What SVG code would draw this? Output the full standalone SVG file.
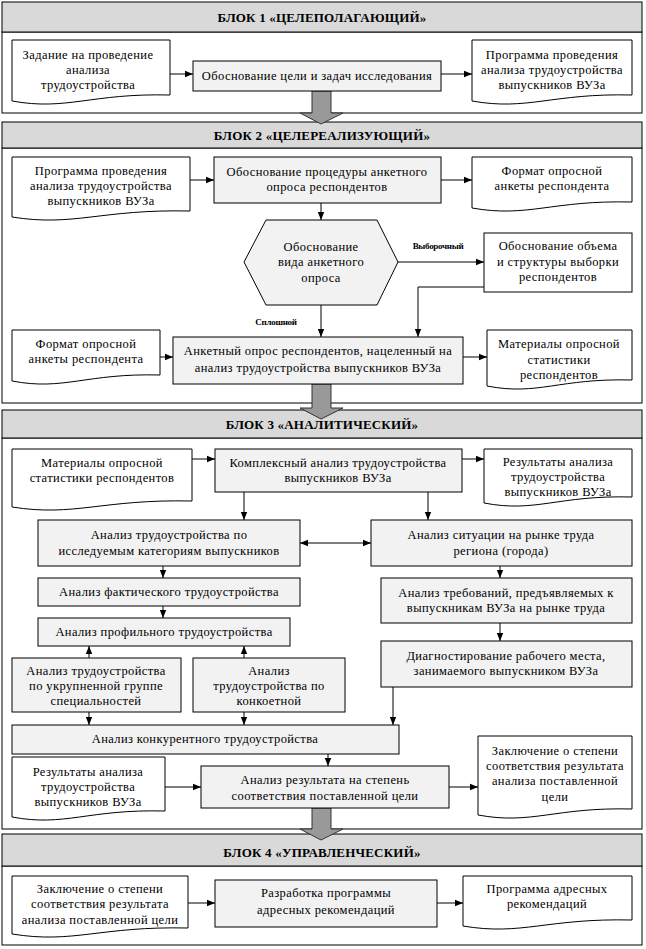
<svg xmlns="http://www.w3.org/2000/svg" width="646" height="949" viewBox="0 0 646 949">
<style>
.hdr{fill:#d9d9d9;stroke:#000;stroke-width:1}
.body{fill:#fff;stroke:#000;stroke-width:1}
.proc{fill:#f2f2f2;stroke:#000;stroke-width:1}
.box{fill:#fff;stroke:#000;stroke-width:1}
.doc{fill:#fff;stroke:#000;stroke-width:1}
.big{fill:#999;stroke:#333;stroke-width:1}
text{font-family:"Liberation Serif","Times New Roman",serif;font-size:12.5px;fill:#000;text-anchor:middle;letter-spacing:0.4px}
.ht{font-weight:bold;font-size:13px;letter-spacing:0.2px}
.lb{font-weight:bold;font-size:9px;letter-spacing:-0.3px}
.cn line,.cn polyline{stroke:#000;stroke-width:1;fill:none}
</style>
<defs>
<marker id="ah" viewBox="0 0 8 8" refX="8" refY="4" markerWidth="8" markerHeight="8" markerUnits="userSpaceOnUse" orient="auto-start-reverse">
<path d="M0,0.8 L8,4 L0,7.2 Z" fill="#000"/>
</marker>
</defs>

<!-- BLOCK 1 -->
<g id="block1">
<rect class="body" x="2" y="32" width="640" height="81"/>
<rect class="hdr" x="2" y="2" width="640" height="30"/>
<text class="ht" x="322" y="22">БЛОК 1 «ЦЕЛЕПОЛАГАЮЩИЙ»</text>
</g>
<!-- BLOCK 2 -->
<g id="block2">
<rect class="body" x="2" y="148" width="640" height="255"/>
<rect class="hdr" x="2" y="122" width="640" height="26"/>
<text class="ht" x="322" y="140">БЛОК 2 «ЦЕЛЕРЕАЛИЗУЮЩИЙ»</text>
</g>
<!-- BLOCK 3 -->
<g id="block3">
<rect class="body" x="2" y="438" width="640" height="391"/>
<rect class="hdr" x="2" y="410" width="640" height="28"/>
<text class="ht" x="322" y="429">БЛОК 3 «АНАЛИТИЧЕСКИЙ»</text>
</g>
<!-- BLOCK 4 -->
<g id="block4">
<rect class="body" x="2" y="866" width="640" height="79"/>
<rect class="hdr" x="2" y="834" width="640" height="32"/>
<text class="ht" x="322" y="857">БЛОК 4 «УПРАВЛЕНЧЕСКИЙ»</text>
</g>

<!-- big transition arrows -->
<g id="transitions">
<polygon class="big" points="312,91 331,91 331,113 343,113 321,124 300,113 312,113"/>
<polygon class="big" points="312,384 331,384 331,408 343,408 321,419 300,408 312,408"/>
<polygon class="big" points="312,808 331,808 331,829 343,829 321,840 300,829 312,829"/>
</g>

<!-- Block 1 nodes -->
<g id="a1"><path class="doc" d="M12,40 H170 V95 C91,93 67,111 12,101 Z"/>
<text x="88" y="59">Задание на проведение</text><text x="88" y="74">анализа</text><text x="88" y="89">трудоустройства</text></g>
<g id="a2"><rect class="proc" x="193" y="61" width="248" height="30"/>
<text x="317" y="80">Обоснование цели и задач исследования</text></g>
<g id="a3"><path class="doc" d="M472,40 H632 V95 C552,93 528,111 472,101 Z"/>
<text x="552" y="59">Программа проведения</text><text x="552" y="74">анализа трудоустройства</text><text x="552" y="89">выпускников ВУЗа</text></g>

<!-- Block 2 nodes -->
<g id="b1"><path class="doc" d="M12,157 H190 V211 C101,209 74,227 12,217 Z"/>
<text x="101" y="175">Программа проведения</text><text x="101" y="190">анализа трудоустройства</text><text x="101" y="205">выпускников ВУЗа</text></g>
<g id="b2"><rect class="proc" x="214" y="157" width="227" height="46"/>
<text x="327" y="176">Обоснование процедуры анкетного</text><text x="327" y="191">опроса респондентов</text></g>
<g id="b3"><path class="doc" d="M472,157 H632 V202 C552,200 528,218 472,208 Z"/>
<text x="552" y="175">Формат опросной</text><text x="552" y="190">анкеты респондента</text></g>
<g id="b4"><polygon class="proc" points="244,262 266,220 377,220 398,262 377,305 266,305"/>
<text x="321" y="251">Обоснование</text><text x="321" y="266">вида анкетного</text><text x="321" y="282">опроса</text></g>
<g id="b5"><rect class="box" x="484" y="233" width="148" height="59"/>
<text x="558" y="250">Обоснование объема</text><text x="558" y="266">и структуры выборки</text><text x="558" y="281">респондентов</text></g>
<g id="b6"><rect class="proc" x="173" y="337" width="290" height="47"/>
<text x="318" y="355">Анкетный опрос респондентов, нацеленный на</text><text x="318" y="372">анализ трудоустройства выпускников ВУЗа</text></g>
<g id="b7"><path class="doc" d="M12,330 H160 V375 C86,373 64,391 12,381 Z"/>
<text x="86" y="348">Формат опросной</text><text x="86" y="363">анкеты респондента</text></g>
<g id="b8"><path class="doc" d="M487,330 H632 V380 C559,378 538,396 487,386 Z"/>
<text x="559" y="348">Материалы опросной</text><text x="559" y="364">статистики</text><text x="559" y="379">респондентов</text></g>

<!-- Block 3 nodes -->
<g id="c1"><path class="doc" d="M12,449 H192 V501 C102,499 75,517 12,507 Z"/>
<text x="102" y="467">Материалы опросной</text><text x="102" y="482">статистики респондентов</text></g>
<g id="c2"><rect class="proc" x="215" y="449" width="247" height="43"/>
<text x="338" y="467">Комплексный анализ трудоустройства</text><text x="338" y="482">выпускников ВУЗа</text></g>
<g id="c3"><path class="doc" d="M484,449 H632 V497 C558,495 536,513 484,503 Z"/>
<text x="558" y="466">Результаты анализа</text><text x="558" y="481">трудоустройства</text><text x="558" y="496">выпускников ВУЗа</text></g>
<g id="c4"><rect class="proc" x="38" y="520" width="262" height="46"/>
<text x="169" y="539">Анализ трудоустройства по</text><text x="169" y="555">исследуемым категориям выпускников</text></g>
<g id="c5"><rect class="proc" x="371" y="520" width="261" height="46"/>
<text x="501" y="539">Анализ ситуации на рынке труда</text><text x="501" y="555">региона (города)</text></g>
<g id="c6"><rect class="proc" x="38" y="578" width="262" height="28"/>
<text x="169" y="596">Анализ фактического трудоустройства</text></g>
<g id="c7"><rect class="proc" x="38" y="618" width="252" height="28"/>
<text x="164" y="636">Анализ профильного трудоустройства</text></g>
<g id="c8"><rect class="proc" x="381" y="578" width="251" height="45"/>
<text x="506" y="597">Анализ требований, предъявляемых к</text><text x="506" y="612">выпускникам ВУЗа на рынке труда</text></g>
<g id="c9"><rect class="proc" x="381" y="641" width="251" height="46"/>
<text x="506" y="660">Диагностирование рабочего места,</text><text x="506" y="675">занимаемого выпускником ВУЗа</text></g>
<g id="c10"><rect class="proc" x="12" y="658" width="169" height="54"/>
<text x="96" y="675">Анализ трудоустройства</text><text x="96" y="690">по укрупненной группе</text><text x="96" y="705">специальностей</text></g>
<g id="c11"><rect class="proc" x="193" y="658" width="152" height="54"/>
<text x="269" y="675">Анализ</text><text x="269" y="690">трудоустройства по</text><text x="269" y="705">конкоетной</text></g>
<g id="c12"><rect class="proc" x="12" y="725" width="387" height="29"/>
<text x="205" y="743">Анализ конкурентного трудоустройства</text></g>
<g id="c13"><rect class="proc" x="201" y="766" width="248" height="42"/>
<text x="325" y="784">Анализ результата на степень</text><text x="325" y="800">соответствия поставленной цели</text></g>
<g id="c14"><path class="doc" d="M12,757 H165 V811 C88,809 65,827 12,817 Z"/>
<text x="88" y="776">Результаты анализа</text><text x="88" y="791">трудоустройства</text><text x="88" y="806">выпускников ВУЗа</text></g>
<g id="c15"><path class="doc" d="M478,736 H632 V809 C555,807 532,825 478,815 Z"/>
<text x="555" y="755">Заключение о степени</text><text x="555" y="770">соответствия результата</text><text x="555" y="785">анализа поставленной</text><text x="555" y="801">цели</text></g>

<!-- Block 4 nodes -->
<g id="d1"><path class="doc" d="M12,876 H188 V928 C100,926 74,944 12,934 Z"/>
<text x="100" y="893">Заключение о степени</text><text x="100" y="908">соответствия результата</text><text x="100" y="924">анализа поставленной цели</text></g>
<g id="d2"><rect class="proc" x="215" y="880" width="222" height="47"/>
<text x="326" y="897">Разработка программы</text><text x="326" y="914">адресных рекомендаций</text></g>
<g id="d3"><path class="doc" d="M463,876 H632 V920 C547,918 522,936 463,926 Z"/>
<text x="547" y="893">Программа адресных</text><text x="547" y="908">рекомендаций</text></g>

<!-- connectors -->
<g id="connectors" class="cn">
<line x1="170" y1="74" x2="193" y2="74" marker-end="url(#ah)"/>
<line x1="441" y1="74" x2="472" y2="74" marker-end="url(#ah)"/>
<line x1="190" y1="180" x2="214" y2="180" marker-end="url(#ah)"/>
<line x1="441" y1="180" x2="472" y2="180" marker-end="url(#ah)"/>
<line x1="321" y1="203" x2="321" y2="220" marker-end="url(#ah)"/>
<line x1="398" y1="262" x2="484" y2="262" marker-end="url(#ah)"/>
<polyline points="484,287 418,287 418,337" marker-end="url(#ah)"/>
<line x1="321" y1="305" x2="321" y2="337" marker-end="url(#ah)"/>
<line x1="160" y1="357" x2="173" y2="357" marker-end="url(#ah)"/>
<line x1="463" y1="357" x2="487" y2="357" marker-end="url(#ah)"/>
<line x1="192" y1="459" x2="215" y2="459" marker-end="url(#ah)"/>
<line x1="462" y1="459" x2="484" y2="459" marker-end="url(#ah)"/>
<line x1="244" y1="492" x2="244" y2="520" marker-end="url(#ah)"/>
<line x1="428" y1="492" x2="428" y2="520" marker-end="url(#ah)"/>
<line x1="300" y1="543" x2="371" y2="543" marker-start="url(#ah)" marker-end="url(#ah)"/>
<line x1="163" y1="566" x2="163" y2="578" marker-end="url(#ah)"/>
<line x1="163" y1="606" x2="163" y2="618" marker-end="url(#ah)"/>
<line x1="500" y1="566" x2="500" y2="578" marker-end="url(#ah)"/>
<line x1="500" y1="623" x2="500" y2="641" marker-end="url(#ah)"/>
<line x1="89" y1="658" x2="89" y2="646" marker-end="url(#ah)"/>
<line x1="244" y1="658" x2="244" y2="646" marker-end="url(#ah)"/>
<line x1="89" y1="712" x2="89" y2="725" marker-end="url(#ah)"/>
<line x1="244" y1="712" x2="244" y2="725" marker-end="url(#ah)"/>
<line x1="393" y1="687" x2="393" y2="725" marker-end="url(#ah)"/>
<line x1="328" y1="754" x2="328" y2="766" marker-end="url(#ah)"/>
<line x1="165" y1="787" x2="201" y2="787" marker-end="url(#ah)"/>
<line x1="449" y1="787" x2="478" y2="787" marker-end="url(#ah)"/>
<line x1="188" y1="903" x2="215" y2="903" marker-end="url(#ah)"/>
<line x1="437" y1="903" x2="463" y2="903" marker-end="url(#ah)"/>
</g>
<g id="labels">
<text class="lb" x="438" y="249">Выборочный</text>
<text class="lb" x="276" y="325">Сплошной</text>
</g>
</svg>
